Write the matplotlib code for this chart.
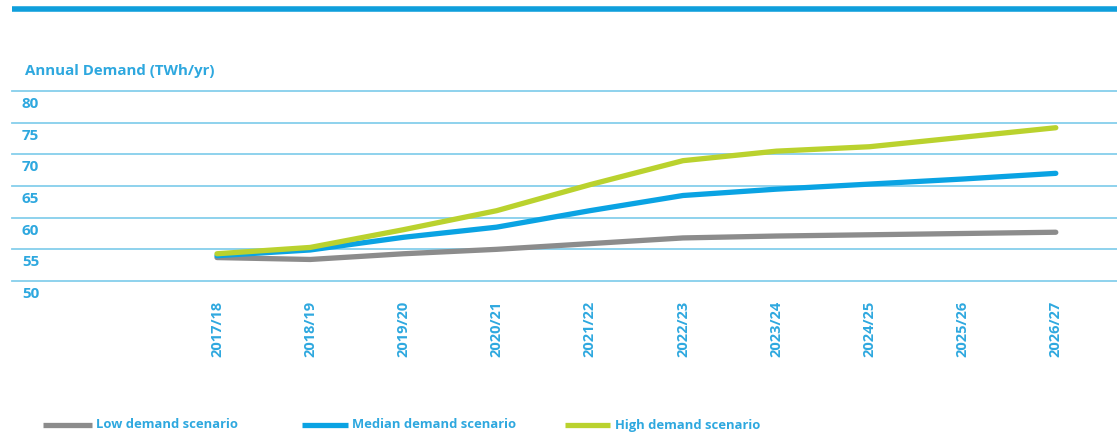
import matplotlib
matplotlib.use("Agg")
import matplotlib.pyplot as plt
from matplotlib.lines import Line2D
from matplotlib.transforms import blended_transform_factory, ScaledTranslation

plt.rcParams['font.family'] = ['Open Sans', 'DejaVu Sans']

years = ["2017/18", "2018/19", "2019/20", "2020/21", "2021/22",
         "2022/23", "2023/24", "2024/25", "2025/26", "2026/27"]
low = [53.7, 53.4, 54.3, 55.0, 55.9, 56.8, 57.1, 57.3, 57.5, 57.7]
median = [54.0, 54.9, 56.9, 58.5, 61.1, 63.5, 64.5, 65.3, 66.1, 67.0]
high = [54.3, 55.3, 58.1, 61.1, 65.2, 69.0, 70.5, 71.2, 72.7, 74.2]
series_names = ["Low demand scenario", "Median demand scenario", "High demand scenario"]
y_ticks = [50, 55, 60, 65, 70, 75, 80]
title = "Annual Demand (TWh/yr)"

colors = ["#8c8c8c", "#0aa3e3", "#bad22e"]
text_color = "#2ea8df"
grid_color = "#86cfec"

W, H = 1117, 434
fig = plt.figure(figsize=(W / 100, H / 100), dpi=100)
ax = fig.add_axes([12 / W, 1 - 281 / H, 1 - 12 / W, 190 / H])

# top bar
fig.add_artist(Line2D([12 / W, 1.0], [1 - 8.5 / H, 1 - 8.5 / H], color="#0f9fdc", lw=4.0,
                      solid_capstyle="butt", transform=fig.transFigure))

x = list(range(len(years)))
for vals, c in zip([low, median, high], colors):
    ax.plot(x, vals, color=c, lw=3.8, solid_capstyle="round", solid_joinstyle="round", zorder=3)

ax.set_ylim(50, 80)
ax.set_xlim((12 - 217) / 93.2, (1117 - 217) / 93.2)
for t in y_ticks:
    ax.axhline(t, color=grid_color, lw=1.3, clip_on=False, zorder=1)

off = ScaledTranslation(0, -13 / 100, fig.dpi_scale_trans)
tr = blended_transform_factory(fig.transFigure, ax.transData) + off
for t in y_ticks:
    ax.text(22 / W, t, str(t), transform=tr, ha="left", va="center", color=text_color,
            fontsize=11, fontweight="bold", clip_on=False)

ax.set_xticks(x)
ax.set_xticklabels(years, rotation=90, color=text_color, fontsize=10.5, fontweight="bold", va="top")
ax.tick_params(axis="x", length=0, pad=14)
ax.set_yticks([])
for s in ax.spines.values():
    s.set_visible(False)

fig.text(25 / W, 1 - 71 / H, title, color=text_color, fontsize=10.8, fontweight="bold",
         ha="left", va="center")

# legend
leg_x = [(43, 92, 96), (302, 348, 352), (565, 610, 615)]
ly = 1 - 425 / H
for name, c, (x0, x1, xt) in zip(series_names, colors, leg_x):
    fig.add_artist(Line2D([x0 / W, x1 / W], [ly, ly], color=c, lw=3.8,
                          solid_capstyle="butt", transform=fig.transFigure))
    fig.text(xt / W, ly, name, color=text_color, fontsize=9.4, fontweight="bold",
             ha="left", va="center")

fig.savefig("out.png", dpi=100, facecolor="white")
